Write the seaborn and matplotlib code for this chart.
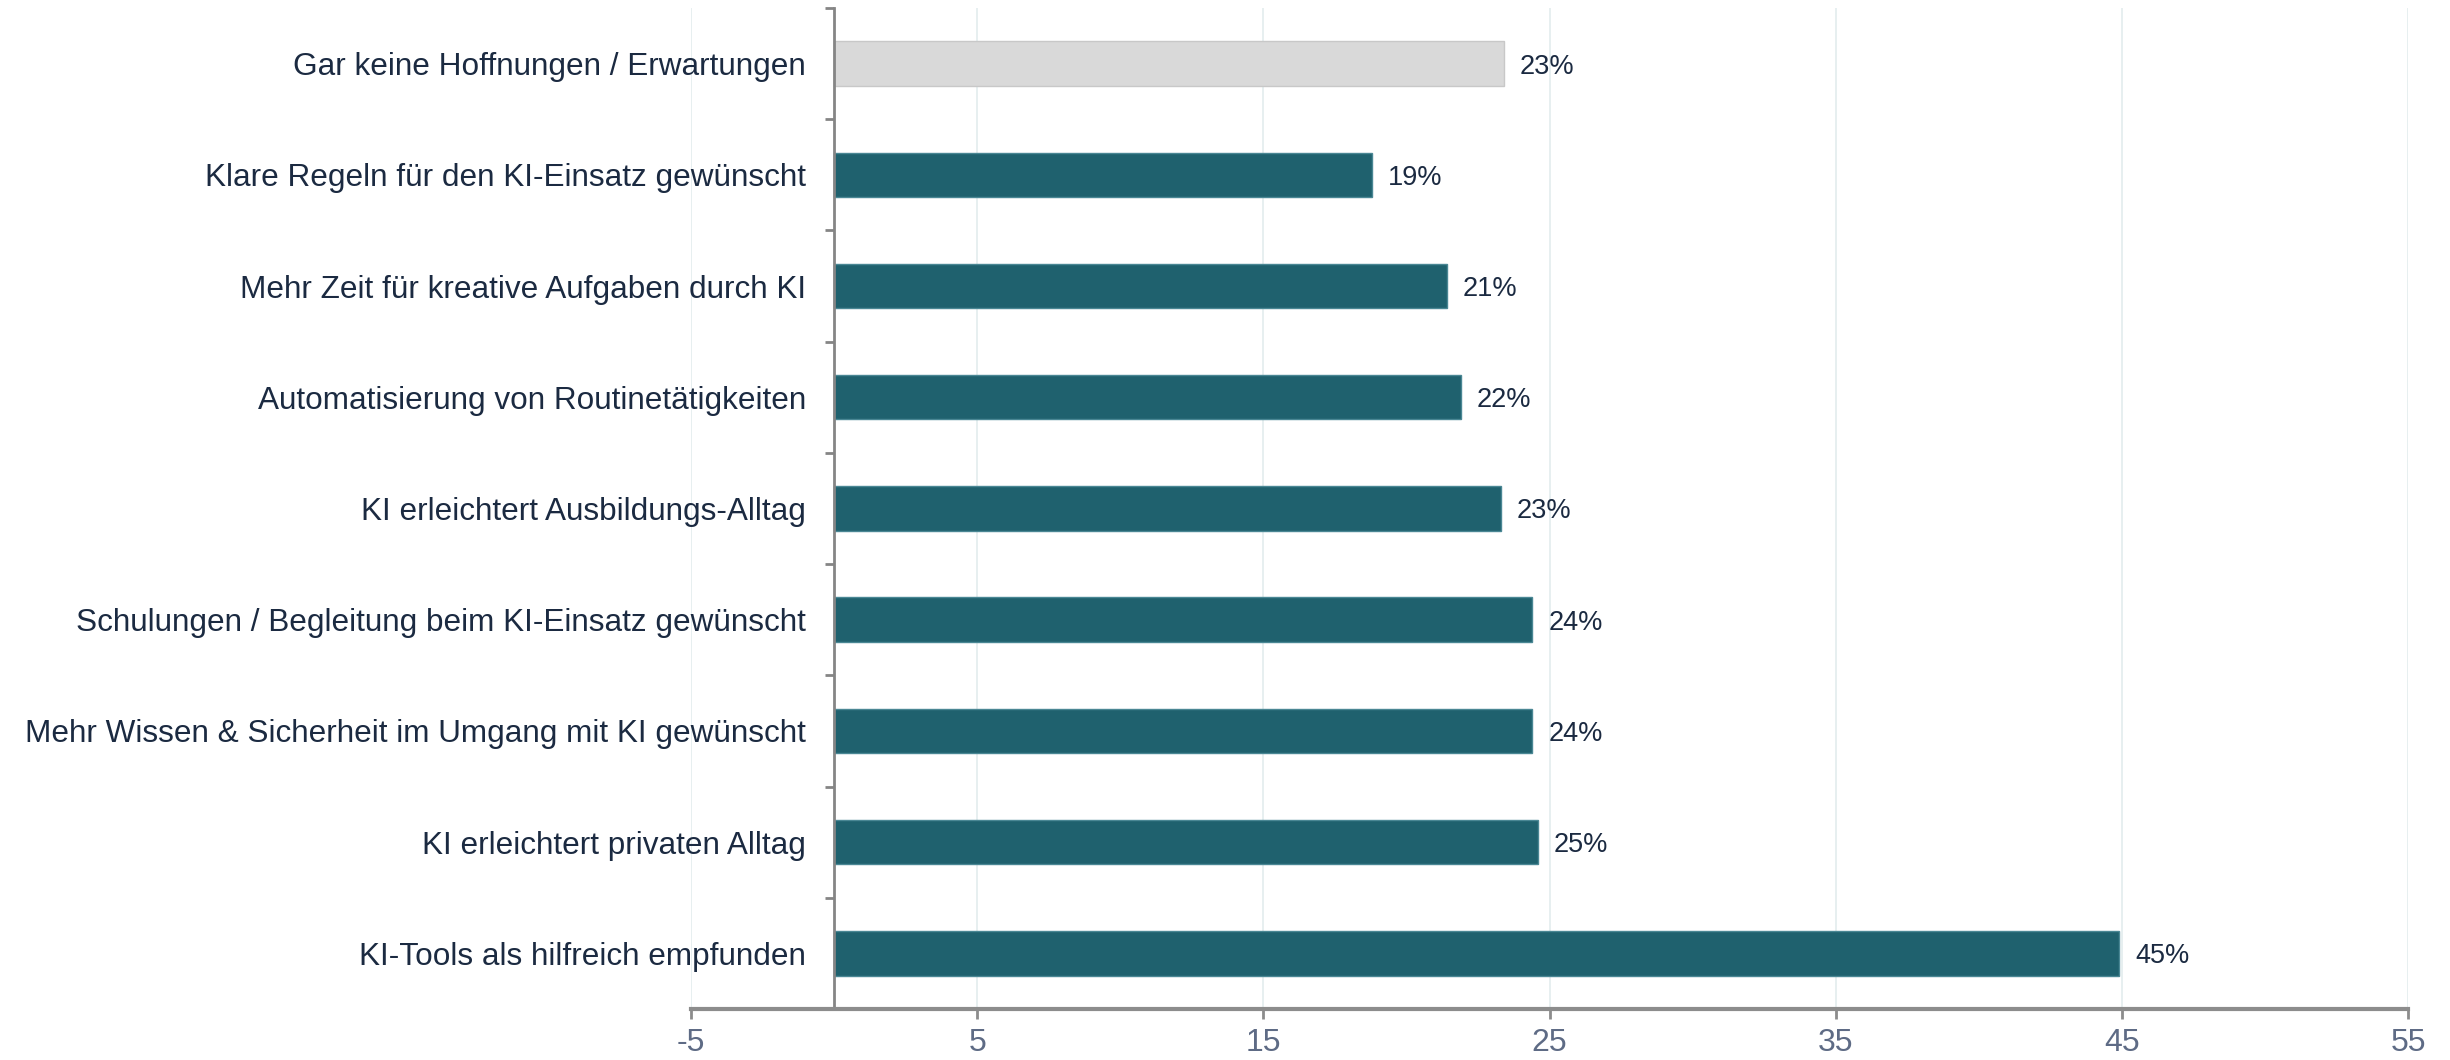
import matplotlib
matplotlib.use("Agg")
import matplotlib.pyplot as plt
import seaborn as sns
import pandas as pd
from matplotlib.ticker import FixedLocator

# Data
categories = [
    "Gar keine Hoffnungen / Erwartungen",
    "Klare Regeln für den KI-Einsatz gewünscht",
    "Mehr Zeit für kreative Aufgaben durch KI",
    "Automatisierung von Routinetätigkeiten",
    "KI erleichtert Ausbildungs-Alltag",
    "Schulungen / Begleitung beim KI-Einsatz gewünscht",
    "Mehr Wissen & Sicherheit im Umgang mit KI gewünscht",
    "KI erleichtert privaten Alltag",
    "KI-Tools als hilfreich empfunden",
]
values = [23.4, 18.8, 21.4, 21.9, 23.3, 24.4, 24.4, 24.6, 44.9]
value_labels = ["23%", "19%", "21%", "22%", "23%", "24%", "24%", "25%", "45%"]
x_ticks = [-5, 5, 15, 25, 35, 45, 55]

df = pd.DataFrame({"category": categories, "value": values})

sns.set_style("white")
plt.rcParams["font.family"] = ["Liberation Sans", "DejaVu Sans"]

teal = "#1F616E"
grey_bar = "#D9D9D9"
bar_colors = [grey_bar] + [teal] * (len(categories) - 1)

fig = plt.figure(figsize=(24.5, 10.6), dpi=100)
ax = fig.add_axes([0.282, 0.0481, 0.701, 0.9444])

sns.barplot(data=df, x="value", y="category", hue="category", palette=bar_colors,
            saturation=1, legend=False, width=0.4, ax=ax, linewidth=1)
for p, c in zip(ax.patches, bar_colors):
    p.set_edgecolor("#C8C8C8" if c == grey_bar else "#4A8794")

ax.set_xlim(-5, 55)
ax.set_ylim(len(categories) - 0.5, -0.5)
ax.set_xticks(x_ticks)
ax.set_xticklabels([str(t) for t in x_ticks], fontsize=23, color="#5E6B85")
ax.xaxis.grid(True, color="#E3ECEE", linewidth=1.2)
ax.set_axisbelow(True)

# y axis at x = 0
ax.spines["left"].set_position(("data", 0))
ax.spines["left"].set_color("#858585")
ax.spines["left"].set_linewidth(2)
ax.spines["bottom"].set_color("#8C8C8C")
ax.spines["bottom"].set_linewidth(3)
ax.spines["top"].set_visible(False)
ax.spines["right"].set_visible(False)

ax.tick_params(axis="y", which="major", left=False, length=0, pad=20,
               labelsize=22.7, labelcolor="#1B2A41")
ax.yaxis.set_minor_locator(FixedLocator([i - 0.5 for i in range(len(categories) + 1)]))
ax.tick_params(axis="y", which="minor", left=True, length=6.5, width=2, color="#858585")
ax.tick_params(axis="x", which="major", bottom=True, length=7, width=2,
               color="#8C8C8C", pad=7)

ax.set_xlabel("")
ax.set_ylabel("")

for p, lab in zip(ax.patches, value_labels):
    ax.text(p.get_width() + 0.55, p.get_y() + p.get_height() / 2, lab,
            va="center_baseline", ha="left", fontsize=19.5, color="#1B2A41")

fig.savefig("out.png", dpi=100)
